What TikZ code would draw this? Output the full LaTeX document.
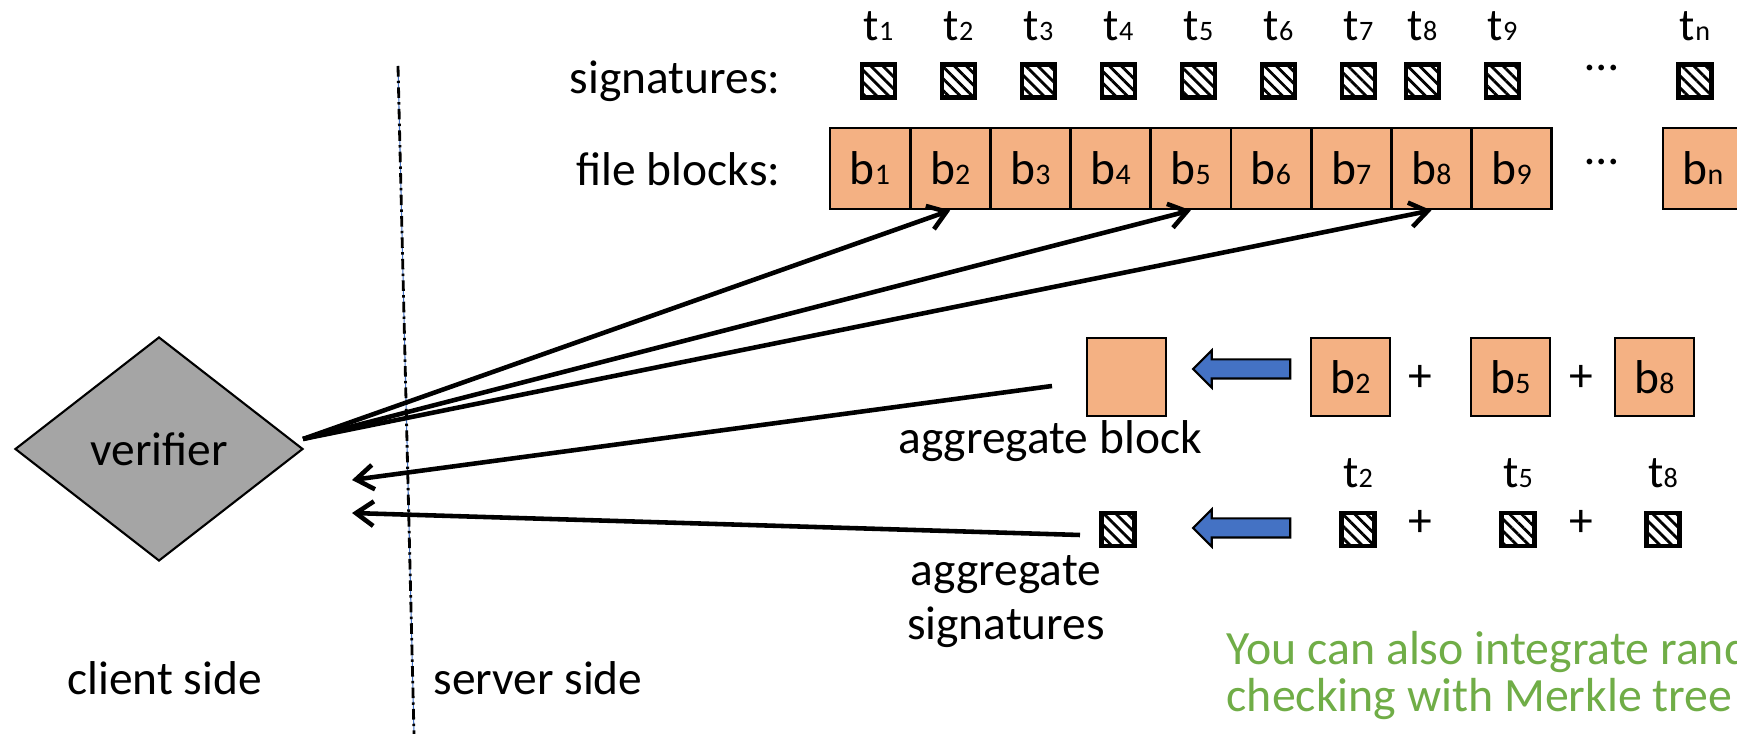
\documentclass[tikz,border=0pt]{standalone}
\usepackage{fontspec}
\setmainfont{Carlito}
\usetikzlibrary{shapes.geometric,shapes.arrows,patterns.meta,arrows.meta}
\definecolor{blockfill}{HTML}{F4B183}
\definecolor{pushblue}{HTML}{4472C4}
\definecolor{verfill}{HTML}{A5A5A5}
\definecolor{notegreen}{HTML}{70AD47}
\newcommand{\idx}[2][8.5pt]{{\fontsize{#1}{#1}\selectfont #2}}

\begin{document}
\begin{tikzpicture}[inner sep=0pt,font=\fontsize{13.5pt}{15.4pt}\selectfont]
	\useasboundingbox (0,0) rectangle (17.37,-7.34);
	\clip (0,0) rectangle (17.37,-7.34);
	\tikzstyle{BlockStyle}=[draw,line width=0.8pt,fill=blockfill,minimum width=0.802cm,minimum height=0.81cm]
	\tikzstyle{SigStyle}=[draw,line width=1.3pt,pattern={Lines[angle=-45,distance=2.4pt,line width=0.8pt]},minimum width=0.33cm,minimum height=0.33cm]
	\tikzstyle{LabelStyle}=[anchor=base,font=\fontsize{13pt}{13pt}\selectfont]
	\tikzstyle{ArrowStyle}=[line width=1.3pt,-{Straight Barb[length=5pt,width=7pt]}]
	\tikzstyle{PushStyle}=[single arrow,draw,fill=pushblue,line width=0.6pt,shape border rotate=180,minimum height=0.97cm,minimum width=0.35cm,inner sep=0.085cm,single arrow head extend=0.09cm]
	\coordinate (top) at (3.98,-0.66);
	\coordinate (bot) at (4.14,-7.34);
	\draw[pushblue,line width=0.3pt] (top) -- (bot);
	\draw[line width=0.8pt,dash pattern=on 3pt off 1.2pt on 0.7pt off 1.2pt] (top) -- (bot);
	\node[diamond,draw,fill=verfill,line width=0.6pt,minimum width=2.88cm,minimum height=2.24cm] (ver) at (1.59,-4.49) {verifier};
	\node[anchor=base east] (siglbl) at (7.81,-0.94) {signatures:};
	\node[anchor=base east] (blklbl) at (7.81,-1.86) {file blocks:};
	\foreach \x/\n in {8.785/1,9.585/2,10.385/3,11.185/4,11.985/5,12.785/6,13.585/7,14.225/8,15.025/9,16.95/n}
	{
		\node[SigStyle] (s\n) at (\x,-0.81) {};
		\node[LabelStyle] (t\n) at (\x,-0.41) {t\idx[8pt]{\n}};
	}
	\foreach \n in {1,...,9}
		\node[BlockStyle] (b\n) at ({8.70+0.802*(\n-1)},-1.685) {b\idx{\n}};
	\node[BlockStyle] (bn) at (17.031,-1.685) {b\idx{n}};
	\node[anchor=base] (dots1) at (16.02,-0.71) {\dots};
	\node[anchor=base] (dots2) at (16.02,-1.65) {\dots};
	\node[BlockStyle,minimum width=0.79cm,minimum height=0.78cm] (agg) at (11.265,-3.77) {};
	\node[PushStyle] (push1) at (12.465,-3.69) {};
	\node[BlockStyle,minimum width=0.79cm,minimum height=0.78cm] (c2) at (13.505,-3.77) {b\idx{2}};
	\node (p1) at (14.20,-3.78) {+};
	\node[BlockStyle,minimum width=0.79cm,minimum height=0.78cm] (c5) at (15.105,-3.77) {b\idx{5}};
	\node (p2) at (15.81,-3.78) {+};
	\node[BlockStyle,minimum width=0.79cm,minimum height=0.78cm] (c8) at (16.545,-3.77) {b\idx{8}};
	\node[anchor=base] (agglbl) at (10.50,-4.54) {aggregate block};
	\node[SigStyle] (aggs) at (11.18,-5.295) {};
	\node[PushStyle] (push2) at (12.465,-5.28) {};
	\foreach \x/\n in {13.58/2,15.18/5,16.63/8}
	{
		\node[SigStyle] (u\n) at (\x,-5.295) {};
		\node[LabelStyle] (v\n) at (\x,-4.88) {t\idx[8pt]{\n}};
	}
	\node (p3) at (14.20,-5.23) {+};
	\node (p4) at (15.81,-5.23) {+};
	\node[anchor=base,align=center] (aggslbl) at (10.06,-6.40) {aggregate\\signatures};
	\coordinate (vo) at (3.03,-4.39);
	\foreach \n in {2,5,8}
		\draw[ArrowStyle] (vo) -- (b\n.south);
	\coordinate (ra) at (10.52,-3.86);
	\coordinate (rb) at (10.80,-5.35);
	\coordinate (la) at (3.52,-4.80);
	\coordinate (lb) at (3.52,-5.13);
	\draw[ArrowStyle] (ra) -- (la);
	\draw[ArrowStyle] (rb) -- (lb);
	\node[anchor=base] (client) at (1.645,-6.95) {client side};
	\node[anchor=base] (server) at (5.38,-6.95) {server side};
	\node[anchor=base west,align=left,text=notegreen,font=\fontsize{13.6pt}{13.4pt}\selectfont] (note) at (12.26,-7.12) {You can also integrate rand\\checking with Merkle tree};
\end{tikzpicture}
\end{document}
